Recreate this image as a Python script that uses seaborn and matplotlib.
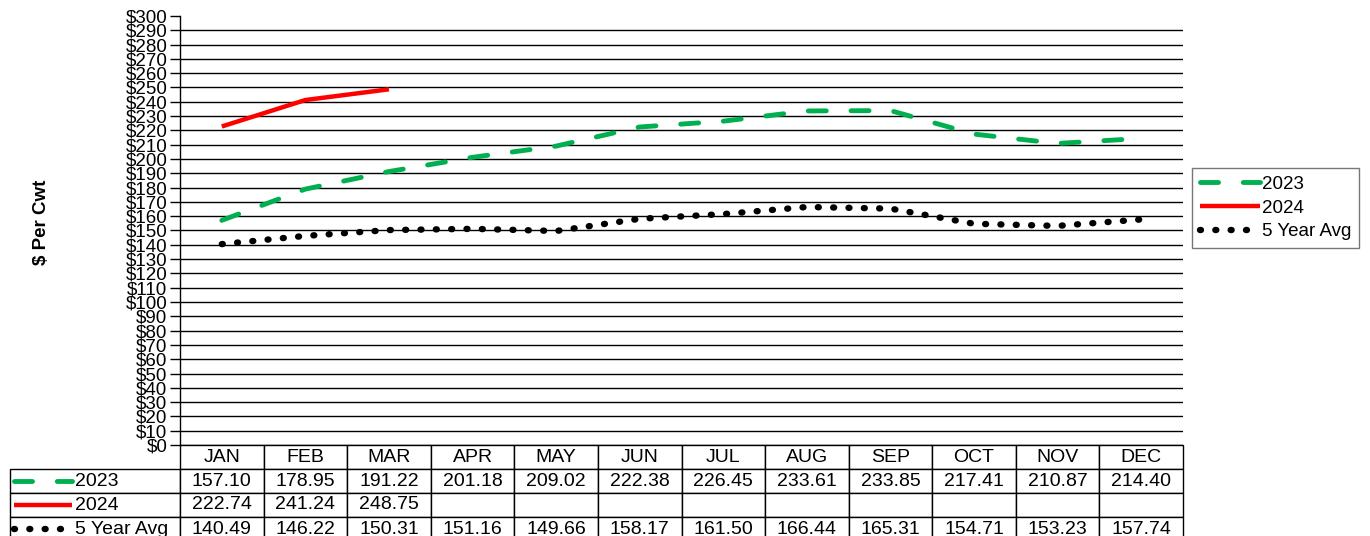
import numpy as np
import pandas as pd
import seaborn as sns
import matplotlib
matplotlib.use("Agg")
import matplotlib.pyplot as plt
from matplotlib.lines import Line2D

meses = ["JAN", "FEB", "MAR", "APR", "MAY", "JUN", "JUL", "AUG", "SEP", "OCT", "NOV", "DEC"]
v2023 = [157.10, 178.95, 191.22, 201.18, 209.02, 222.38, 226.45, 233.61, 233.85, 217.41, 210.87, 214.40]
v2024 = [222.74, 241.24, 248.75]
media5 = [140.49, 146.22, 150.31, 151.16, 149.66, 158.17, 161.50, 166.44, 165.31, 154.71, 153.23, 157.74]
nomes = ["2023", "2024", "5 Year Avg"]

sns.set_theme(style="white")
plt.rcParams["font.family"] = ["Liberation Sans", "DejaVu Sans"]
plt.rcParams["text.color"] = "black"

W, H = 1370, 536
fig = plt.figure(figsize=(W / 100, H / 100), dpi=100)
ax = fig.add_axes([180 / W, 1 - 445 / H, 1003 / W, 429 / H])

verde = "#00B050"
estilo_verde = dict(color=verde, lw=3.5, linestyle=(0, (3.7, 5.1)), dash_capstyle="round")
estilo_verm = dict(color="#FF0000", lw=3.2, solid_capstyle="butt")
estilo_preto = dict(color="black", lw=4.6, linestyle=(0, (0.15, 2.25)), dash_capstyle="round")

x = np.arange(len(meses))
sns.lineplot(x=x, y=v2023, ax=ax, label=nomes[0], **estilo_verde)
sns.lineplot(x=x[:len(v2024)], y=v2024, ax=ax, label=nomes[1], **estilo_verm)
sns.lineplot(x=x, y=media5, ax=ax, label=nomes[2], **estilo_preto)

ax.set_xlim(-0.5, len(meses) - 0.5)
ax.set_ylim(0, 300)
ax.set_yticks(np.arange(0, 301, 10))
ax.set_yticklabels(["$%d" % v for v in range(0, 301, 10)], fontsize=13.5)
ax.set_xticks([])
ax.yaxis.grid(True, color="black", lw=1)
ax.yaxis.get_gridlines()[-1].set_visible(False)
ax.tick_params(axis="y", left=True, length=7, width=1, color="black", pad=2, labelcolor="black")
for s in ["top", "right", "bottom"]:
    ax.spines[s].set_visible(False)
ax.spines["left"].set_color("black")
ax.spines["left"].set_linewidth(1)
ax.set_xlabel("")
ax.set_ylabel("")

fig.text(42 / W, 1 - 222 / H, "$ Per Cwt", rotation=90, ha="center", va="center",
         fontsize=13.5, fontweight="bold")

# legenda
leg = ax.legend(loc="center left", bbox_to_anchor=(1192 / W, 1 - 208 / H),
                bbox_transform=fig.transFigure, fontsize=13.5, frameon=True, fancybox=False,
                handlelength=3.2, handletextpad=0.15, labelspacing=0.35, borderpad=0.4,
                borderaxespad=0)
leg.get_frame().set_edgecolor("#555555")
leg.get_frame().set_linewidth(1)

# tabela de dados (primeira coluna = rotulos das series)
celulas = [
    [""] + ["%.2f" % v for v in v2023],
    [""] + ["%.2f" % v for v in v2024] + [""] * (len(meses) - len(v2024)),
    [""] + ["%.2f" % v for v in media5],
]
tab = ax.table(cellText=celulas, colLabels=[""] + meses, cellLoc="center",
               colWidths=[170 / 1003] + [1 / 12] * 12,
               bbox=[-170 / 1003, -96 / 429, 1173 / 1003, 96 / 429])
tab.auto_set_font_size(False)
tab.set_fontsize(14)
for (r, c), cel in tab.get_celld().items():
    cel.set_edgecolor("black")
    cel.set_linewidth(1)
    cel.set_facecolor("white")
    cel.get_text().set_color("black")
    if r == 0 and c == 0:
        cel.visible_edges = ""
        cel.set_facecolor("none")

# amostras de linha dentro da tabela
ys = [481, 505, 529]
estilos = [estilo_verde, estilo_verm, estilo_preto]
fins = [72, 72, 62]
for nome, yy, est, fim in zip(nomes, ys, estilos, fins):
    fig.add_artist(Line2D([14 / W, fim / W], [1 - yy / H, 1 - yy / H], transform=fig.transFigure, **est))
    fig.text(75 / W, 1 - yy / H, nome, ha="left", va="center", fontsize=14)

fig.savefig("out.png", dpi=100)
